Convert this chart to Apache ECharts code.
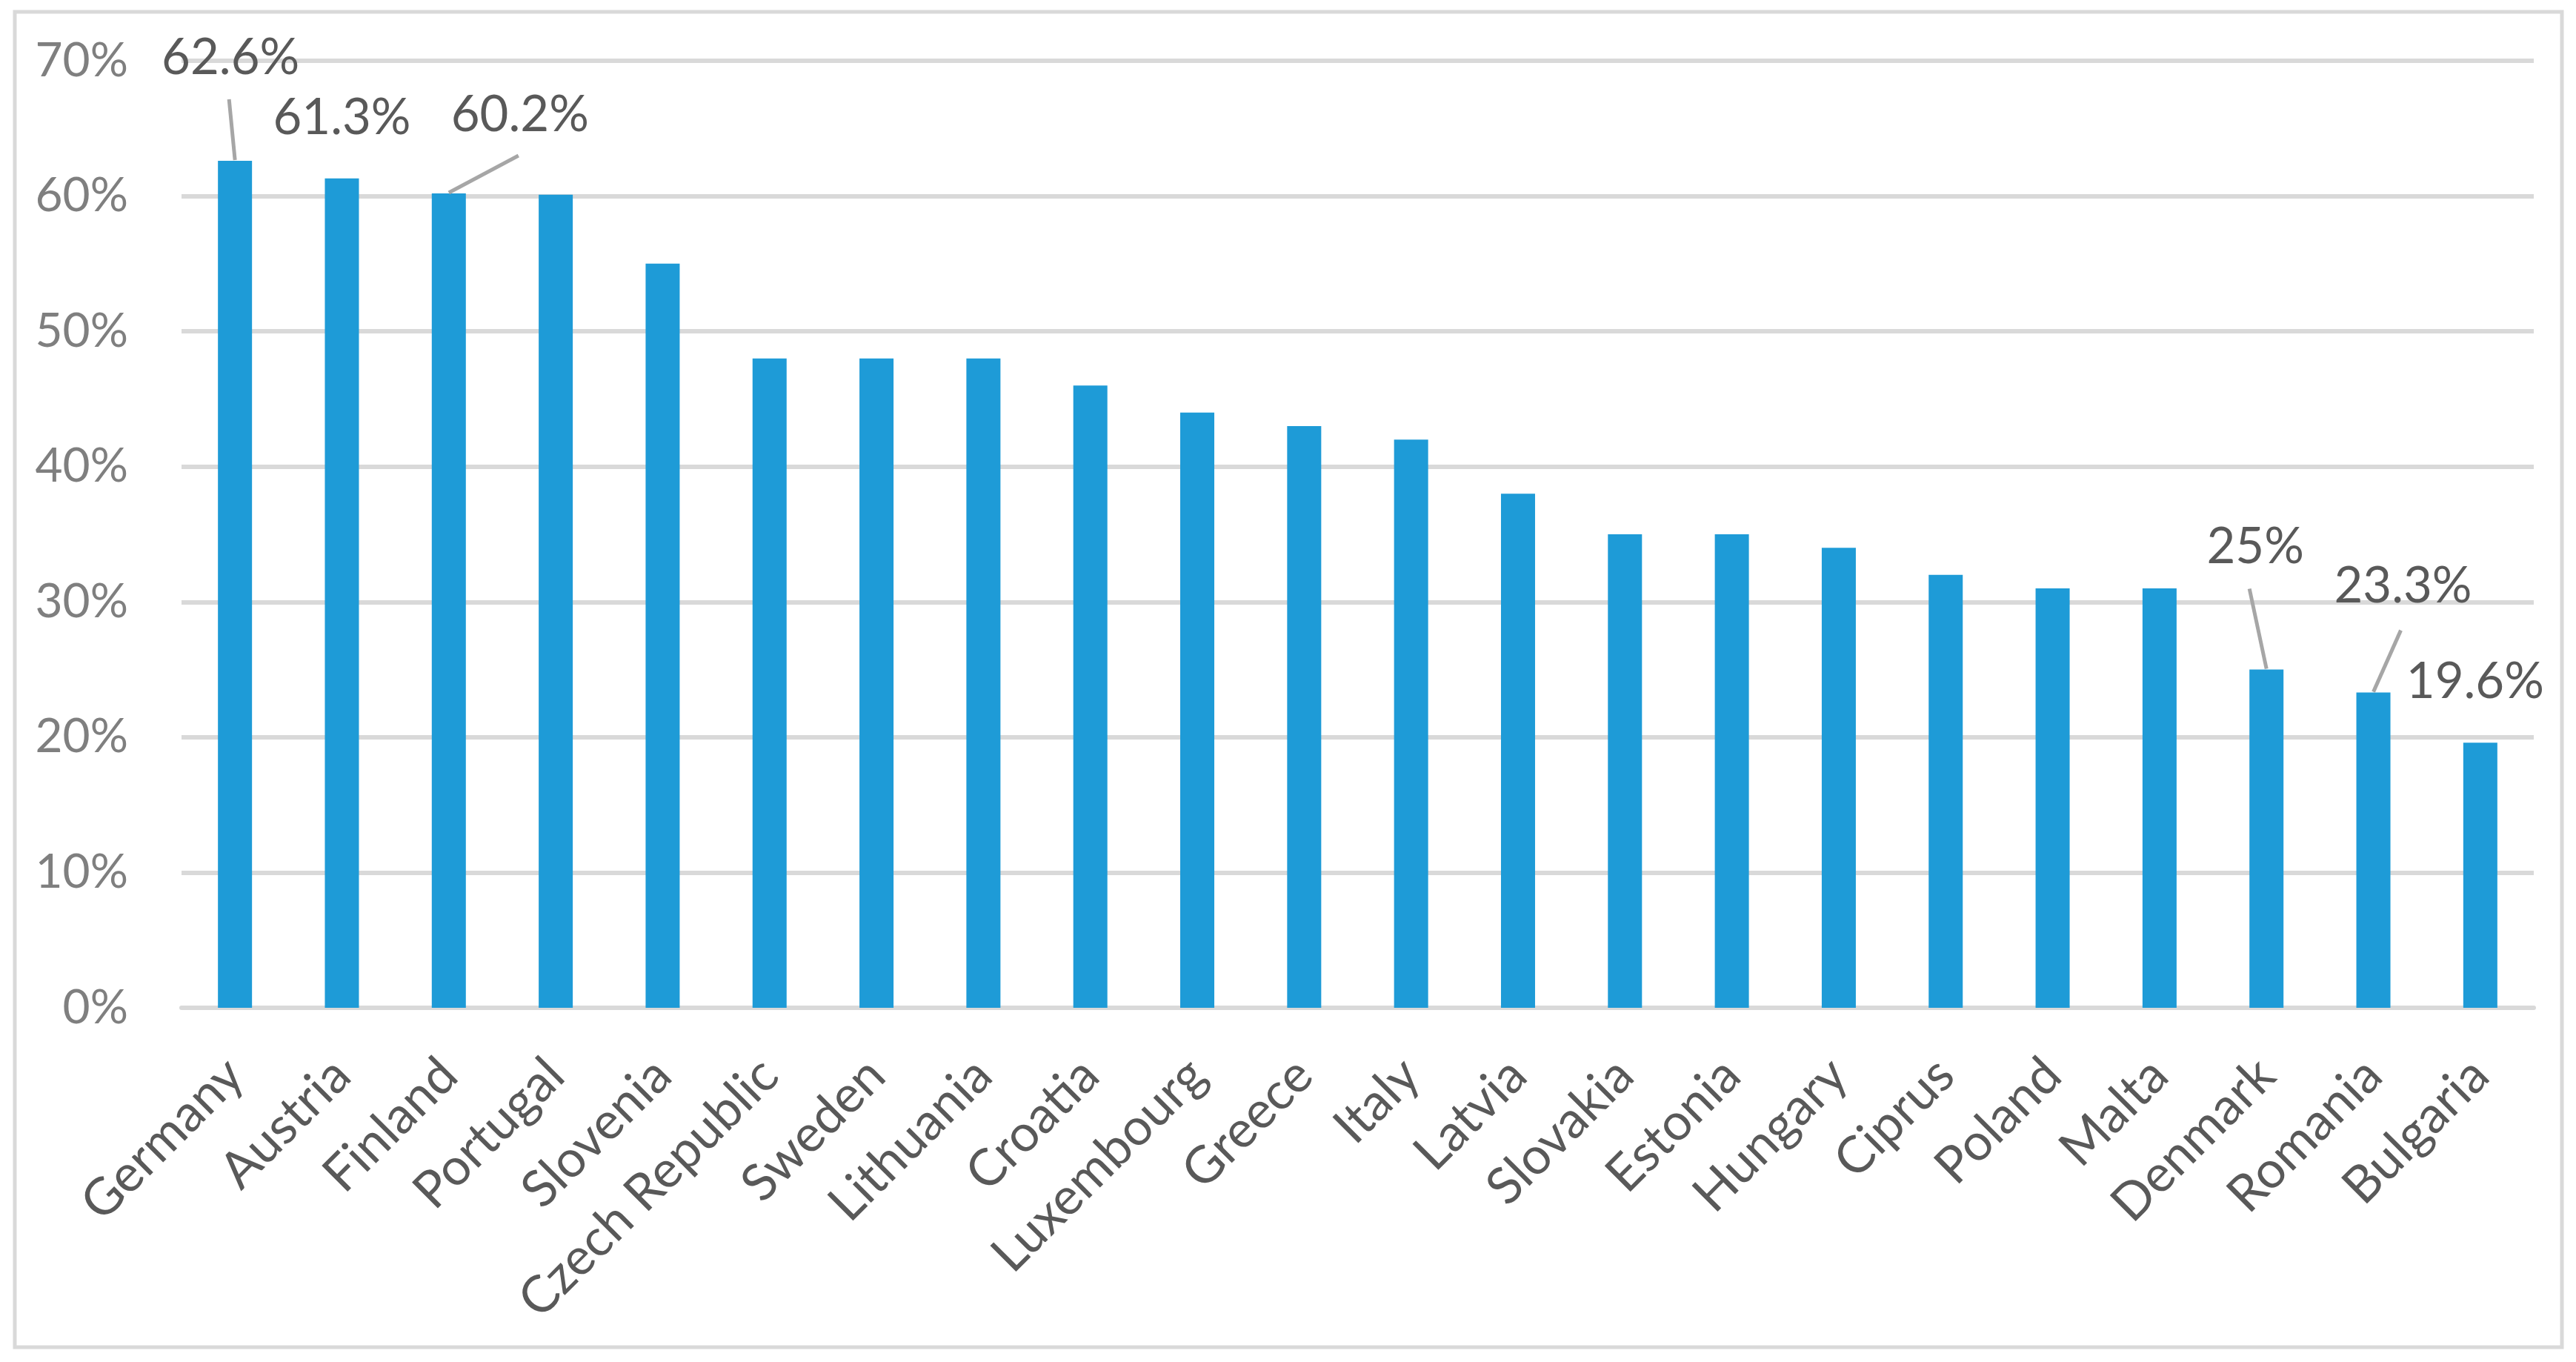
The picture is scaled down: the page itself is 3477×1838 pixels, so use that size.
<!DOCTYPE html>
<html><head><meta charset="utf-8">
<script src="https://cdn.jsdelivr.net/npm/echarts@6/dist/echarts.min.js"></script>
<style>html,body{margin:0;padding:0;background:#fff}#chart{width:3477px;height:1838px}</style>
</head><body><div id="chart"></div>
<script>
// ---- data ----
const categories = ['Germany','Austria','Finland','Portugal','Slovenia','Czech Republic','Sweden','Lithuania','Croatia','Luxembourg','Greece','Italy','Latvia','Slovakia','Estonia','Hungary','Ciprus','Poland','Malta','Denmark','Romania','Bulgaria'];
const values = [62.6,61.3,60.2,60.1,55,48,48,48,46,44,43,42,38,35,35,34,32,31,31,25,23.3,19.6];
const labeledCountries = ['Germany','Austria','Finland','Denmark','Romania','Bulgaria'];
const yMin = 0, yMax = 70, yStep = 10;

// ---- label placement (style, not data): pixel shifts from default "top" label ----
const labelShift = {
  Germany:  {dx:-6,  dy:-57},
  Austria:  {dx:0,   dy:0},
  Finland:  {dx:96,  dy:-24},
  Denmark:  {dx:-15, dy:-84},
  Romania:  {dx:40,  dy:-62},
  Bulgaria: {dx:-7,  dy:0}
};
// leader line: pixel vector from bar top centre towards its label
const leaderVector = {
  Germany: [-8, -83],
  Finland: [94, -51],
  Denmark: [-23, -109],
  Romania: [37, -84]
};

const FONT = 'Lato';
const chart = echarts.init(document.getElementById('chart'), null, {renderer:'canvas'});

const seriesData = values.map((v, i) => ({
  value: v,
  label: {show: labeledCountries.indexOf(categories[i]) >= 0}
}));
const leaderData = [];
categories.forEach((c, i) => { if (leaderVector[c]) leaderData.push([i, values[i]]); });

chart.setOption({
  backgroundColor: '#ffffff',
  animation: false,
  graphic: [{
    type: 'rect', silent: true, z: 0,
    shape: {x: 20, y: 16, width: 3438, height: 1802},
    style: {fill: 'none', stroke: '#d9d9d9', lineWidth: 5}
  }],
  grid: {left: 245, right: 57, top: 82, bottom: 478, containLabel: false},
  xAxis: {
    type: 'category',
    data: categories,
    axisLine: {show: true, lineStyle: {color: '#d9d9d9', width: 6}},
    axisTick: {show: false},
    axisLabel: {
      rotate: 45, interval: 0, margin: 80,
      color: '#595959', fontFamily: FONT, fontSize: 69
    }
  },
  yAxis: {
    type: 'value', min: yMin, max: yMax, interval: yStep,
    axisLine: {show: false}, axisTick: {show: false},
    axisLabel: {formatter: '{value}%', color: '#7f7f7f', fontFamily: FONT, fontSize: 64, margin: 72},
    splitLine: {show: true, lineStyle: {color: '#d9d9d9', width: 6}}
  },
  series: [{
    type: 'bar',
    data: seriesData,
    barWidth: 46,
    itemStyle: {color: '#1e9bd7'},
    label: {
      show: false, position: 'top', distance: 48,
      formatter: '{c}%', color: '#595959', fontFamily: FONT, fontSize: 67
    },
    labelLayout: function (p) {
      const sh = labelShift[categories[p.dataIndex]];
      return sh ? {dx: sh.dx, dy: sh.dy} : {};
    }
  }, {
    type: 'custom',
    data: leaderData,
    z: 5,
    silent: true,
    renderItem: function (params, api) {
      const idx = api.value(0);
      const p = api.coord([idx, api.value(1)]);
      const v = leaderVector[categories[idx]];
      return {
        type: 'line',
        shape: {x1: p[0], y1: p[1] - 1, x2: p[0] + v[0], y2: p[1] + v[1]},
        style: {stroke: '#a6a6a6', lineWidth: 5, lineCap: 'butt'}
      };
    }
  }]
});
</script></body></html>
